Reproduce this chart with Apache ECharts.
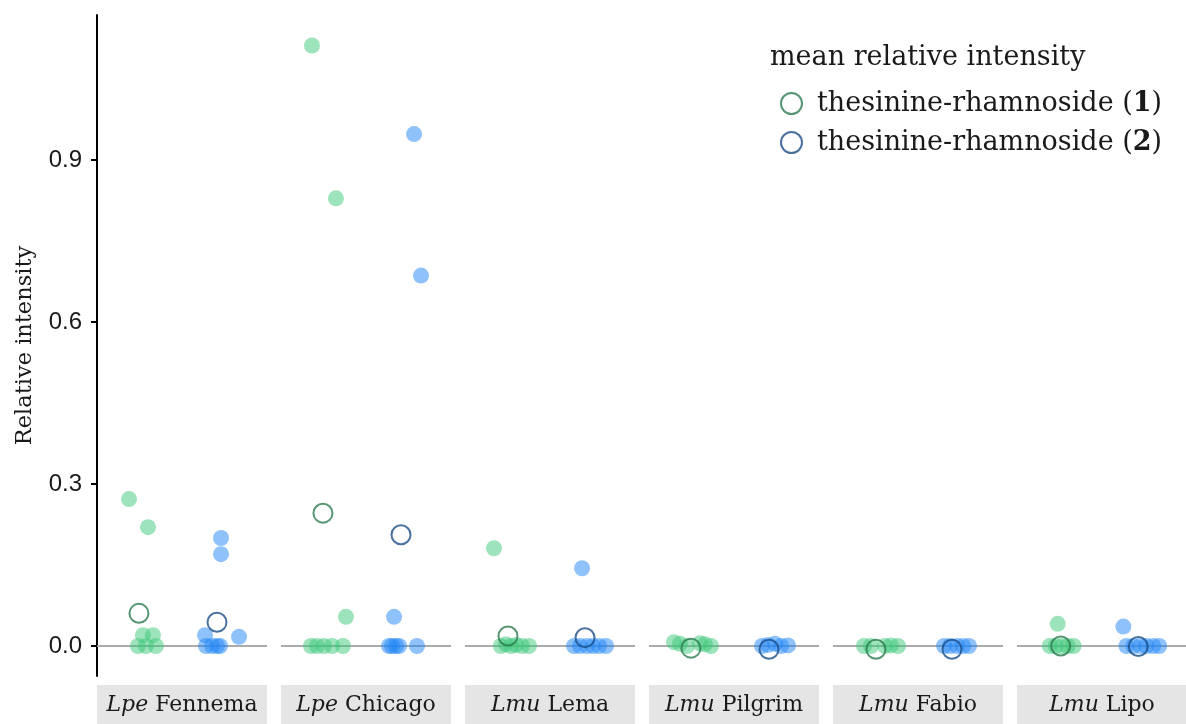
<!DOCTYPE html>
<html>
<head>
<meta charset="utf-8">
<script src="https://cdn.jsdelivr.net/npm/echarts@6/dist/echarts.min.js"></script>
<style>
html,body{margin:0;padding:0;background:#fff;}
#chart{width:1186px;height:724px;}
</style>
</head>
<body>
<div id="chart"></div>
<script>
// ---- data ----
const facetSpecies = ['Lpe', 'Lpe', 'Lmu', 'Lmu', 'Lmu', 'Lmu'];
const facetCultivar = ['Fennema', 'Chicago', 'Lema', 'Pilgrim', 'Fabio', 'Lipo'];
const compoundNames = ['thesinine-rhamnoside (1)', 'thesinine-rhamnoside (2)'];
const yTicks = [0, 0.3, 0.6, 0.9];

// compound 1 (green): individual relative intensities per facet
const rham1Values = [
  [0.272, 0.220, 0.020, 0.020, 0, 0, 0],
  [1.112, 0.829, 0.054, 0, 0, 0, 0, 0],
  [0.181, 0, 0.003, 0, 0.002, 0, 0],
  [0.007, 0.004, 0, 0.005, 0.003, 0],
  [0, 0, 0, 0.001, 0],
  [0.041, 0, 0, 0, 0, 0]
];
// horizontal jitter of each point (category units)
const rham1Jitter = [
  [-0.186, 0.060, -0.005, 0.124, -0.070, 0.034, 0.163],
  [-0.199, 0.111, 0.241, -0.212, -0.135, -0.044, 0.060, 0.202],
  [-0.225, -0.135, -0.070, -0.005, 0.060, 0.137, 0.228],
  [-0.277, -0.199, -0.109, 0.060, 0.124, 0.202],
  [-0.199, -0.109, 0.072, 0.150, 0.241],
  [-0.070, -0.173, -0.096, -0.018, 0.060, 0.137]
];
// compound 2 (blue)
const rham2Values = [
  [0.200, 0.170, 0.020, 0.017, 0, 0, 0, 0],
  [0.948, 0.686, 0.054, 0, 0, 0, 0, 0],
  [0.144, 0, 0, 0, 0, 0, 0],
  [0, 0.002, 0.004, 0, 0.001],
  [0, 0, 0, 0, 0],
  [0.036, 0, 0, 0, 0, 0, 0]
];
const rham2Jitter = [
  [0.005, 0.005, -0.202, 0.238, -0.189, -0.111, -0.047, -0.008],
  [0.122, 0.212, -0.137, -0.202, -0.163, -0.111, -0.072, 0.160],
  [-0.085, -0.189, -0.111, -0.021, 0.057, 0.135, 0.225],
  [-0.137, -0.060, 0.031, 0.109, 0.199],
  [-0.163, -0.085, 0.005, 0.083, 0.160],
  [-0.215, -0.176, -0.085, 0.005, 0.083, 0.173, 0.251]
];
// mean relative intensity per facet
const rham1Mean = [0.0605, 0.246, 0.0185, -0.004, -0.006, 0.0];
const rham1MeanJitter = [-0.057, -0.057, -0.044, -0.057, -0.044, -0.031];
const rham2Mean = [0.044, 0.206, 0.0154, -0.006, -0.006, -0.001];
const rham2MeanJitter = [-0.047, -0.047, -0.047, -0.047, -0.060, -0.021];

// ---- layout / style ----
const gridLeft0 = 97, gridW = 170, gridPitch = 184, gridTop = 15, gridH = 661;
const yMin = -0.0556, yMax = 1.1685;
const serif = 'DejaVu Serif';
const textColor = '#1a1a1a';
const pointGreen = '#3cc777', pointBlue = '#1f85f5';
const meanGreen = '#2b7a4f', meanBlue = '#1c4d87';

const grids = [], xAxes = [], yAxes = [], series = [], graphics = [];
facetCultivar.forEach((cult, i) => {
  const left = gridLeft0 + i * gridPitch;
  grids.push({left: left, top: gridTop, width: gridW, height: gridH, containLabel: false});
  xAxes.push({gridIndex: i, type: 'value', min: 0.4, max: 2.6, show: false});
  if (i === 0) {
    yAxes.push({
      gridIndex: i, type: 'value', min: yMin, max: yMax,
      axisLine: {show: true, onZero: false, lineStyle: {color: '#000', width: 2}},
      axisTick: {show: true, customValues: yTicks, length: 6, lineStyle: {color: '#000', width: 2}},
      axisLabel: {customValues: yTicks, formatter: v => v.toFixed(1), fontSize: 24,
        fontFamily: 'Liberation Sans', color: textColor, margin: 15},
      splitLine: {show: false},
      name: 'Relative intensity', nameLocation: 'middle', nameGap: 60,
      nameTextStyle: {fontFamily: serif, fontSize: 22.5, color: textColor}
    });
  } else {
    yAxes.push({gridIndex: i, type: 'value', min: yMin, max: yMax, show: false, splitLine: {show: false}});
  }
  series.push({
    type: 'scatter', name: 'pts1', xAxisIndex: i, yAxisIndex: i, z: 3,
    symbolSize: 16, itemStyle: {color: pointGreen, opacity: 0.5},
    data: rham1Values[i].map((v, k) => [1 + rham1Jitter[i][k], v]),
    markLine: {silent: true, z: 1, symbol: ['none', 'none'], label: {show: false},
      lineStyle: {color: '#ababab', width: 2, type: 'solid'}, emphasis: {disabled: true},
      data: [{yAxis: 0}]}
  });
  series.push({
    type: 'scatter', name: 'pts2', xAxisIndex: i, yAxisIndex: i, z: 3,
    symbolSize: 16, itemStyle: {color: pointBlue, opacity: 0.5},
    data: rham2Values[i].map((v, k) => [2 + rham2Jitter[i][k], v])
  });
  series.push({
    type: 'scatter', name: compoundNames[0], xAxisIndex: i, yAxisIndex: i, z: 4,
    symbol: 'circle', symbolSize: 19,
    itemStyle: {color: 'rgba(255,255,255,0)', borderColor: meanGreen, borderWidth: 2},
    data: [[1 + rham1MeanJitter[i], rham1Mean[i]]]
  });
  series.push({
    type: 'scatter', name: compoundNames[1], xAxisIndex: i, yAxisIndex: i, z: 4,
    symbol: 'circle', symbolSize: 19,
    itemStyle: {color: 'rgba(255,255,255,0)', borderColor: meanBlue, borderWidth: 2},
    data: [[2 + rham2MeanJitter[i], rham2Mean[i]]]
  });
  graphics.push({
    type: 'group', left: left, top: 685,
    children: [
      {type: 'rect', shape: {x: 0, y: 0, width: gridW, height: 40}, style: {fill: '#e5e5e5'}},
      {type: 'text', x: gridW / 2, y: 20, style: {
        text: '{i|' + facetSpecies[i] + '} ' + cult, align: 'center', verticalAlign: 'middle',
        fontFamily: serif, fontSize: 22, fill: textColor,
        rich: {i: {fontStyle: 'italic', fontFamily: serif, fontSize: 22, fill: textColor}}
      }}
    ]
  });
});

const chart = echarts.init(document.getElementById('chart'));
chart.setOption({
  backgroundColor: '#fff',
  animation: false,
  title: {text: 'mean relative intensity', left: 765, top: 39,
    textStyle: {fontFamily: serif, fontSize: 27, fontWeight: 'normal', color: textColor}},
  legend: {
    data: compoundNames, orient: 'vertical', left: 775, top: 85,
    itemWidth: 21, itemHeight: 21, itemGap: 12, icon: 'circle',
    formatter: n => n.replace(/\((\d)\)/, '({b|$1})'),
    textStyle: {fontFamily: serif, fontSize: 27, color: textColor, padding: [0, 0, 0, 10],
      rich: {b: {fontWeight: 'bold', fontFamily: serif, fontSize: 27, color: textColor}}}
  },
  grid: grids, xAxis: xAxes, yAxis: yAxes, series: series,
  graphic: graphics
});
</script>
</body>
</html>
